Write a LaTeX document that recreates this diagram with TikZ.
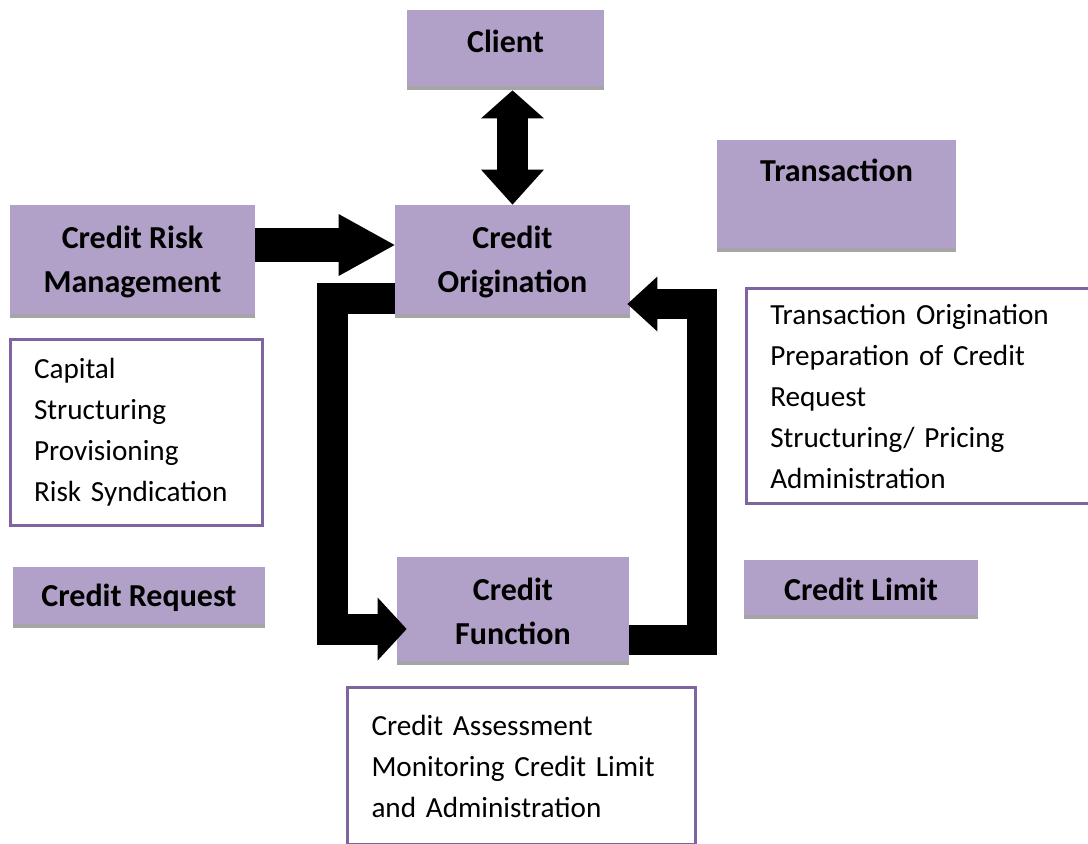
\documentclass[tikz,border=0pt]{standalone}
\usepackage{fontspec}
\setmainfont{Carlito}
\usetikzlibrary{
  arrows.meta,
  calc
}

\definecolor{boxPurple}{HTML}{B1A0C7}
\definecolor{borderPurple}{HTML}{8064A2}
\definecolor{shadeGrey}{HTML}{A5A5A5}

\begin{document}
\begin{tikzpicture}[
    x=0.5pt,y=-0.5pt,
    titleBox/.style={fill=boxPurple,inner sep=0pt,align=center,
      font=\fontsize{16}{22}\selectfont\bfseries,
      path picture={\fill[shadeGrey] (path picture bounding box.south west) rectangle ([yshift=2pt]path picture bounding box.south east);}},
    listBox/.style={draw=borderPurple,line width=1.5pt,fill=white,inner xsep=12pt,inner ysep=0pt,align=left,
      font=\fontsize{14.6}{20.5}\selectfont},
    bigArrow/.style={line width=15.5pt}
  ]
    \clip (0,0) rectangle (1088,843);

    % purple boxes
    \node[titleBox,minimum width=98.5pt,text height=21pt,text depth=19pt] (client) at (505.5,50) {Client};
    \node[titleBox,minimum width=119.5pt,text height=20.5pt,text depth=35.5pt] (transaction) at (836.5,196) {Transaction};
    \node[titleBox,minimum width=122.5pt,minimum height=56.5pt] (riskManagement) at (132.5,261.5) {Credit Risk\\Management};
    \node[titleBox,minimum width=117.5pt,minimum height=56.5pt] (origination) at (512.5,261.5) {Credit\\Origination};
    \node[titleBox,minimum width=126pt,minimum height=30.5pt] (request) at (139,597.5) {Credit Request};
    \node[titleBox,minimum width=116pt,minimum height=54pt] (creditFunction) at (513,611) {Credit\\Function};
    \node[titleBox,minimum width=117pt,minimum height=29.5pt] (limit) at (861,589.5) {Credit Limit};

    % lists
    \node[listBox,text width=102pt,minimum height=93pt] (riskList) at (136,432.5)
      {Capital\\Structuring\\Provisioning\\Risk Syndication};
    \node[listBox,text width=162.75pt,minimum height=107.5pt] (originationList) at (933,396)
      {Transaction Origination\\Preparation of Credit\\Request\\Structuring/ Pricing\\Administration};
    \node[listBox,text width=150pt,minimum height=78.75pt] (functionList) at (521.5,766)
      {Credit Assessment\\Monitoring Credit Limit\\and Administration};

    % arrows
    \draw[bigArrow,{Triangle[width=31.5pt,length=14pt,line width=0pt]}-{Triangle[width=31.5pt,length=17.5pt,line width=0pt]}]
      (origination.north |- client.south) -- (origination.north);
    \draw[bigArrow,line width=17pt,-{Triangle[width=31pt,length=28pt,line width=0pt]}]
      ($(riskManagement.east)+(0,-16.5)$) -- ($(origination.west)+(0,-16.5)$);
    \draw[bigArrow,-{Triangle[width=31.5pt,length=14.5pt,line width=0pt]}]
      ($(origination.west)+(0,36.5)$) -- ++(-62,0) |- ($(creditFunction.west)+(10,18)$);
    \draw[bigArrow,line width=15pt,-{Triangle[width=27.5pt,length=15pt,line width=0pt]}]
      ($(creditFunction.east)+(0,29)$) -- ++(73,0) |- ($(origination.east)+(-3,42.5)$);
\end{tikzpicture}
\end{document}
